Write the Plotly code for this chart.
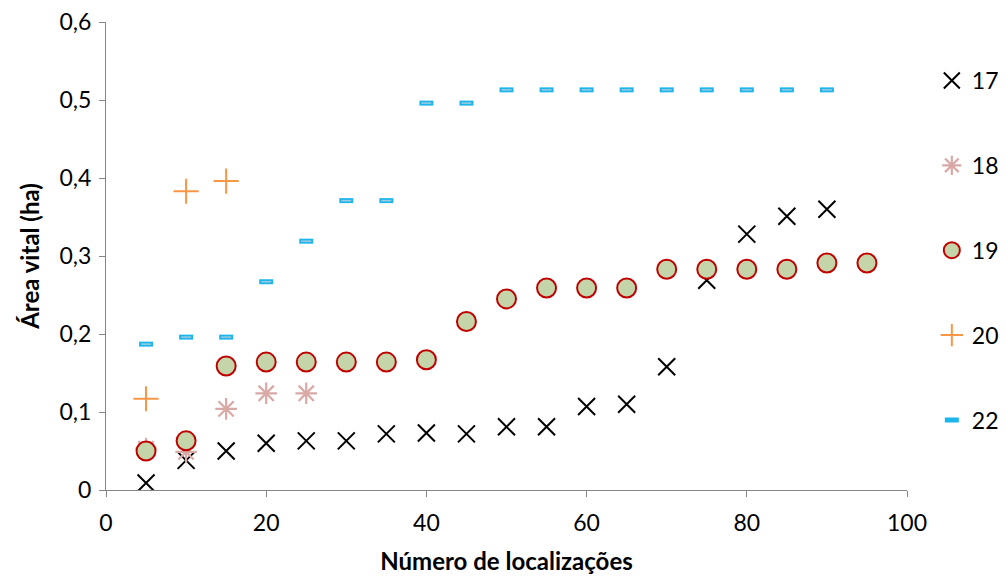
import plotly.graph_objects as go

# ---- data ----
x17 = [5, 10, 15, 20, 25, 30, 35, 40, 45, 50, 55, 60, 65, 70, 75, 80, 85, 90]
y17 = [0.009, 0.038, 0.050, 0.060, 0.063, 0.063, 0.072, 0.073, 0.072, 0.081, 0.081,
       0.107, 0.110, 0.158, 0.269, 0.328, 0.351, 0.360]

x18 = [5, 10, 15, 20, 25]
y18 = [0.053, 0.049, 0.104, 0.124, 0.124]

x19 = [5, 10, 15, 20, 25, 30, 35, 40, 45, 50, 55, 60, 65, 70, 75, 80, 85, 90, 95]
y19 = [0.050, 0.063, 0.159, 0.164, 0.164, 0.164, 0.164, 0.167, 0.216, 0.245, 0.259,
       0.259, 0.259, 0.283, 0.283, 0.283, 0.283, 0.291, 0.291]

x20 = [5, 10, 15]
y20 = [0.117, 0.383, 0.396]

x22 = [5, 10, 15, 20, 25, 30, 35, 40, 45, 50, 55, 60, 65, 70, 75, 80, 85, 90]
y22 = [0.187, 0.196, 0.196, 0.267, 0.319, 0.371, 0.371, 0.496, 0.496, 0.513, 0.513,
       0.513, 0.513, 0.513, 0.513, 0.513, 0.513, 0.513]

series_names = ["17", "18", "19", "20", "22"]

y_tickvals = [0, 0.1, 0.2, 0.3, 0.4, 0.5, 0.6]
y_ticktext = ["0", "0,1", "0,2", "0,3", "0,4", "0,5", "0,6"]
x_tickvals = [0, 20, 40, 60, 80, 100]

FONT = "Lato, 'Open Sans', sans-serif"

fig = go.Figure()
fig.add_trace(go.Scatter(x=x17, y=y17, mode="markers", name=series_names[0], legendgroup="g17",
                         marker=dict(symbol="x-thin-open", size=17, color="black",
                                     line=dict(color="black", width=2))))
fig.add_trace(go.Scatter(x=x18, y=y18, mode="markers", name=series_names[1], legendgroup="g18",
                         marker=dict(symbol="asterisk-open", size=18, color="#D9A9A6",
                                     line=dict(color="#D9A9A6", width=2.2))))
fig.add_trace(go.Scatter(x=x19, y=y19, mode="markers", name=series_names[2], legendgroup="g19",
                         marker=dict(symbol="circle", size=19, color="#C4D6A9",
                                     line=dict(color="#C00000", width=2))))
fig.add_trace(go.Scatter(x=x20, y=y20, mode="markers", name=series_names[3], legendgroup="g20",
                         marker=dict(symbol="cross-thin-open", size=18, color="#F79646",
                                     line=dict(color="#F79646", width=2))))
fig.add_trace(go.Scatter(x=x22, y=y22, mode="markers", name=series_names[4], legendgroup="g22",
                         marker=dict(symbol="line-ew-open", size=10, color="#1DB6EC",
                                     line=dict(color="#1DB6EC", width=5))))
fig.add_trace(go.Scatter(x=x22, y=y22, mode="markers", name=series_names[4], legendgroup="g22",
                         showlegend=False, hoverinfo="skip",
                         marker=dict(symbol="line-ew-open", size=7, color="#9FCBDD",
                                     line=dict(color="#9FCBDD", width=1.5))))

axis_common = dict(showline=True, linecolor="#868686", linewidth=1, ticks="outside",
                   ticklen=6, tickcolor="#868686", showgrid=False, zeroline=False,
                   tickfont=dict(family=FONT, size=23, color="black"))

fig.update_layout(
    width=1007, height=579,
    margin=dict(l=106, r=100, t=22, b=89, autoexpand=False),
    plot_bgcolor="white", paper_bgcolor="white",
    font=dict(family=FONT, color="black"),
    xaxis=dict(range=[0, 100], tickvals=x_tickvals,
               ticklabelstandoff=6, **axis_common,
               title=dict(text="<b>Número de localizações</b>", font=dict(family=FONT, size=24),
                          standoff=18)),
    yaxis=dict(range=[0, 0.6], tickvals=y_tickvals, ticktext=y_ticktext,
               ticklabelstandoff=3, **axis_common,
               title=dict(text="<b>Área vital (ha)</b>", font=dict(family=FONT, size=24),
                          standoff=13)),
    legend=dict(x=1.031, xanchor="left", y=0.921, yanchor="top",
                font=dict(family=FONT, size=23, color="black"),
                tracegroupgap=52, bgcolor="rgba(0,0,0,0)"),
    showlegend=True,
)

fig.write_html("out.html")
